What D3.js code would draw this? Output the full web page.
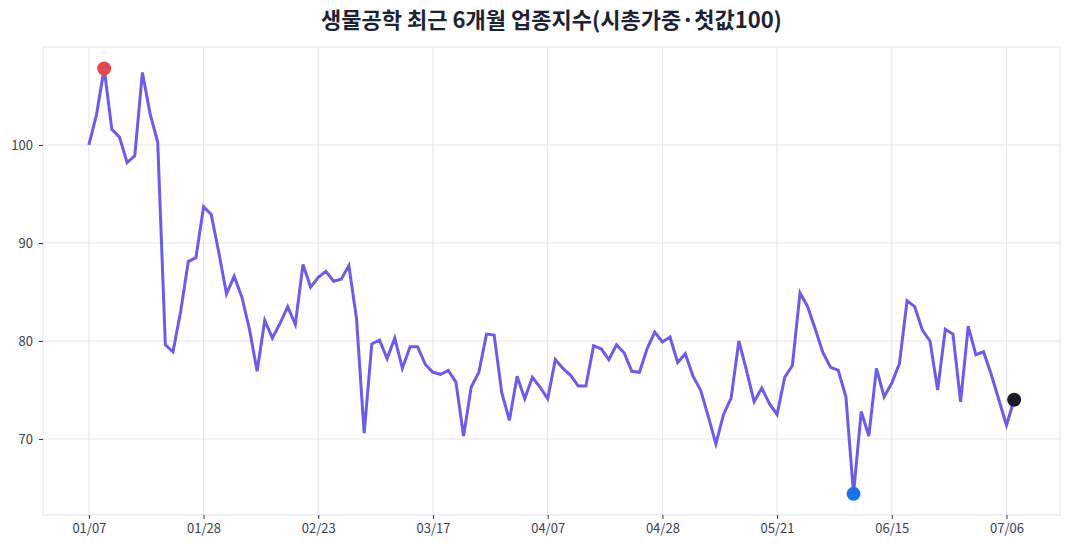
<!DOCTYPE html>
<html>
<head>
<meta charset="utf-8">
<script src="https://cdn.jsdelivr.net/npm/d3@7"></script>
<style>
  body { margin: 0; background: #fff; }
  svg { display: block; font-family: "Noto Sans CJK KR", "Noto Sans", sans-serif; }
</style>
</head>
<body>
<svg id="chart" width="1070" height="549"></svg>
<script>
(function(){
    'use strict';

    const title = '생물공학 최근 6개월 업종지수(시총가중·첫값100)';

    // index values, one per trading day
    const values = [
        100.0, 103.1, 107.8, 101.6, 100.8, 98.2, 98.9, 107.4, 103.2, 100.3,
        79.6, 78.9, 83.0, 88.1, 88.5, 93.7, 92.9, 89.0, 84.8, 86.6,
        84.5, 81.2, 76.9, 82.1, 80.3, 81.8, 83.5, 81.7, 87.8, 85.5,
        86.5, 87.1, 86.1, 86.3, 87.7, 82.3, 70.6, 79.7, 80.1, 78.2,
        80.3, 77.2, 79.4, 79.4, 77.6, 76.8, 76.6, 77.0, 75.8, 70.3,
        75.3, 76.8, 80.7, 80.6, 74.7, 71.9, 76.4, 74.1, 76.3, 75.3,
        74.1, 78.1, 77.2, 76.5, 75.4, 75.4, 79.5, 79.2, 78.1, 79.6,
        78.8, 76.9, 76.8, 79.2, 80.9, 79.9, 80.4, 77.8, 78.7, 76.4,
        75.0, 72.3, 69.5, 72.5, 74.2, 80.0, 77.0, 73.8, 75.2, 73.6,
        72.5, 76.3, 77.5, 84.9, 83.5, 81.2, 78.8, 77.3, 77.0, 74.3,
        64.4, 72.8, 70.3, 77.2, 74.3, 75.7, 77.7, 84.1, 83.5, 81.1,
        80.0, 75.0, 81.2, 80.7, 73.8, 81.5, 78.6, 78.9, 76.6, 74.0,
        71.4, 74.0
    ];

    const tickIndex = [0, 15, 30, 45, 60, 75, 90, 105, 120];
    const tickLabels = ['01/07', '01/28', '02/23', '03/17', '04/07', '04/28', '05/21', '06/15', '07/06'];
    const yTicks = [70, 80, 90, 100];

    const width = 1070;
    const height = 549;
    const margin = {top: 47, bottom: 34, left: 43, right: 10};

    const svg = d3.select('#chart');

    const x = d3.scaleLinear()
        .domain([-6, values.length + 5])
        .range([margin.left, width - margin.right]);

    const y = d3.scaleLinear()
        .domain([62.24, 110])
        .range([height - margin.bottom, margin.top]);

    const grid = '#e3e5ea';

    // gridlines
    svg.append('g')
        .selectAll('line')
        .data(yTicks)
        .enter()
        .append('line')
            .attr('x1', margin.left)
            .attr('x2', width - margin.right)
            .attr('y1', d => y(d))
            .attr('y2', d => y(d))
            .attr('stroke', grid);

    svg.append('g')
        .selectAll('line')
        .data(tickIndex)
        .enter()
        .append('line')
            .attr('x1', d => x(d))
            .attr('x2', d => x(d))
            .attr('y1', margin.top)
            .attr('y2', height - margin.bottom)
            .attr('stroke', grid);

    svg.append('rect')
        .attr('x', margin.left)
        .attr('y', margin.top)
        .attr('width', width - margin.left - margin.right)
        .attr('height', height - margin.top - margin.bottom)
        .attr('fill', 'none')
        .attr('stroke', grid);

    function xAxis(g){
        g.attr('transform', `translate(0, ${height - margin.bottom})`)
        .call(d3.axisBottom(x).tickValues(tickIndex).tickSize(4).tickPadding(5)
            .tickFormat((d, i) => tickLabels[i]));
    }

    function yAxis(g){
        g.attr('transform', `translate(${margin.left}, 0)`)
        .call(d3.axisLeft(y).tickValues(yTicks).tickSize(4).tickPadding(6));
    }

    [xAxis, yAxis].forEach(fn => {
        const g = svg.append('g').call(fn);
        g.select('.domain').remove();
        g.selectAll('.tick line').attr('stroke', '#333');
        g.selectAll('.tick text')
            .attr('fill', '#3b4255')
            .style('font-size', '13px')
            .style('font-family', '"Noto Sans CJK KR", sans-serif');
    });

    // index line
    const line = d3.line()
        .x((d, i) => x(i))
        .y(d => y(d));

    svg.append('path')
        .datum(values)
        .attr('fill', 'none')
        .attr('stroke', '#6c5ce7')
        .attr('stroke-width', 3)
        .attr('stroke-linejoin', 'miter')
        .attr('d', line);

    // max, min, last markers
    const maxI = d3.maxIndex(values);
    const minI = d3.minIndex(values);
    const lastI = values.length - 1;
    const marks = [
        {i: maxI, color: '#e5484d'},
        {i: minI, color: '#1a73e8'},
        {i: lastI, color: '#1b1b2b'}
    ];

    svg.append('g')
        .selectAll('circle')
        .data(marks)
        .enter()
        .append('circle')
            .attr('cx', d => x(d.i))
            .attr('cy', d => y(values[d.i]))
            .attr('r', 7)
            .attr('fill', d => d.color);

    svg.append('text')
        .attr('x', (margin.left + width - margin.right) / 2)
        .attr('y', 28)
        .attr('text-anchor', 'middle')
        .attr('fill', '#1e2235')
        .style('font-size', '22px')
        .style('font-weight', 'bold')
        .text(title);
})();
</script>
</body>
</html>
